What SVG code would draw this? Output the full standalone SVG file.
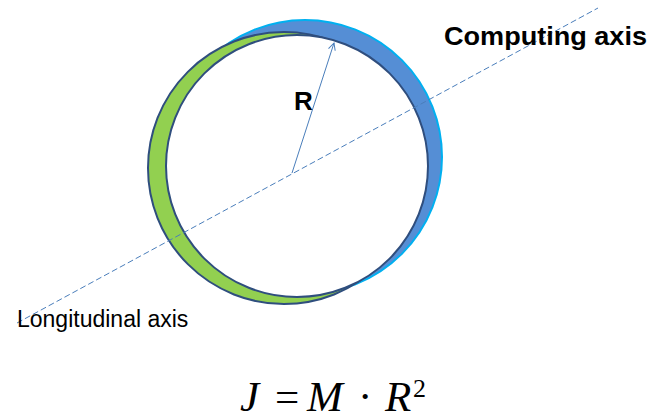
<svg xmlns="http://www.w3.org/2000/svg" width="651" height="419" viewBox="0 0 651 419">
<defs>
<style>
.lbl{font-family:"Liberation Sans",Arial,sans-serif;fill:#000}
.b{font-weight:bold}
.conn{stroke:#4A7EBB;stroke-width:1;fill:none}
.math{font-family:"Liberation Serif","Times New Roman",serif;font-size:43px;fill:#000}
.ring{stroke:#2F4E7E;stroke-width:2}
</style>
<marker id="arr" markerWidth="10" markerHeight="10" refX="8" refY="5" orient="auto" markerUnits="userSpaceOnUse">
<polyline points="1,1.5 8,5 1,8.5" fill="none" stroke="#4A7EBB" stroke-width="1"/>
</marker>
</defs>
<rect width="651" height="419" fill="#fff"/>
<g id="ring">
<circle cx="305" cy="157" r="137" fill="#558ED5" stroke="#00B0F0" stroke-width="2"/>
<circle cx="284" cy="168" r="136" fill="#92D050" class="ring"/>
<circle cx="297" cy="166" r="131" fill="#fff" class="ring"/>
</g>
<g id="connectors">
<line class="conn" x1="17" y1="323" x2="598" y2="8" stroke-dasharray="6,3"/>
<line class="conn" x1="292" y1="173" x2="334" y2="43" marker-end="url(#arr)"/>
</g>
<g id="label-R"><text class="lbl b" x="294" y="110" font-size="26">R</text></g>
<g id="label-computing"><text class="lbl b" x="444" y="45" font-size="26" textLength="203" lengthAdjust="spacingAndGlyphs">Computing axis</text></g>
<g id="label-longitudinal"><text class="lbl" x="17" y="327" font-size="23">Longitudinal axis</text></g>
<g id="formula">
<text class="math" y="411"><tspan x="240" font-style="italic">J</tspan><tspan x="275">=</tspan><tspan x="307" font-style="italic">M</tspan><tspan x="358">·</tspan><tspan x="385" font-style="italic">R</tspan><tspan x="413" y="397" font-size="26">2</tspan></text>
</g>
</svg>
